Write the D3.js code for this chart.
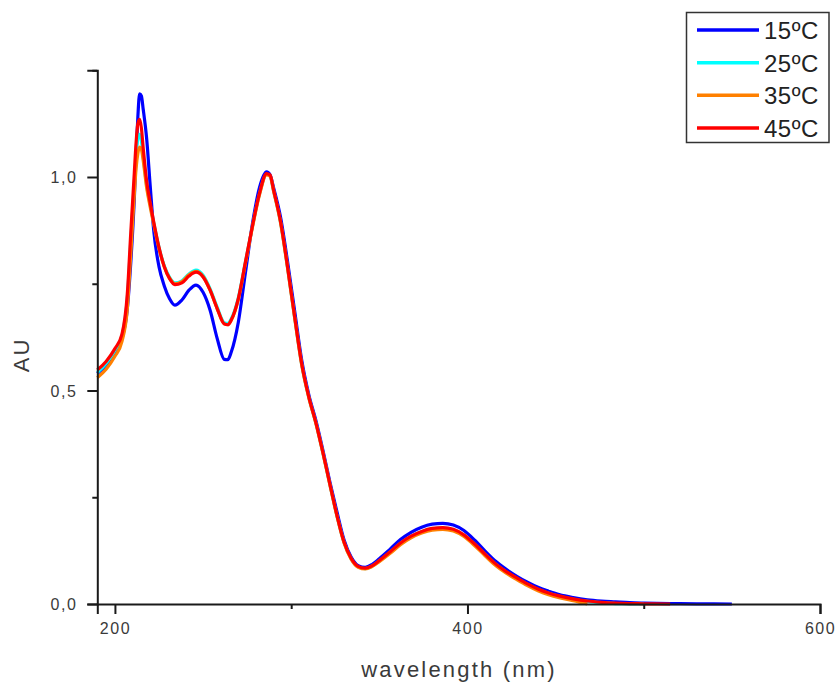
<!DOCTYPE html>
<html>
<head>
<meta charset="utf-8">
<script src="https://cdn.jsdelivr.net/npm/d3@7"></script>
<style>
  html, body { margin: 0; padding: 0; background: #fff; }
  svg { display: block; }
  text { font-family: "Liberation Sans", Arial, sans-serif; }
</style>
</head>
<body>
<svg id="chart" width="840" height="686"></svg>
<script>
// Absorbance spectra (AU) recorded at four temperatures.
const wavelength = [190,195,200,204,207,209,211,212,213,214,215,216,218,220,222,225,228,231,234,238,242,246,250,254,258,262,264,266,270,274,278,282,286,288,290,294,298,302,306,310,314,318,322,326,330,334,338,342,346,350,356,362,368,374,380,386,392,398,404,410,416,422,428,434,440,446,452,460,468,476,484,492,500,515,530,550];

const au15 = [.540,.560,.588,.622,.690,.800,.950,1.05,1.14,1.195,1.19,1.16,1.09,.98,.875,.79,.745,.715,.700,.712,.735,.747,.730,.688,.622,.573,.572,.59,.66,.775,.89,.975,1.012,1.005,.975,.905,.80,.685,.57,.49,.43,.36,.285,.215,.15,.11,.09,.086,.093,.106,.128,.151,.168,.180,.187,.189,.185,.172,.150,.124,.100,.081,.065,.051,.039,.030,.022,.015,.010,.007,.005,.003,.002,.001,.0005,0];

const au25 = [.542,.563,.594,.628,.715,.850,.985,1.05,1.09,1.10,1.085,1.05,.98,.935,.893,.835,.792,.765,.752,.757,.773,.782,.770,.738,.695,.659,.657,.668,.717,.800,.884,.960,1.006,1.003,.968,.893,.786,.670,.560,.484,.424,.354,.279,.206,.144,.106,.087,.083,.089,.101,.121,.142,.158,.169,.176,.178,.174,.161,.140,.116,.093,.075,.060,.046,.034,.025,.018,.011,.006,.003,.001,.0005,0];

const au35 = [.530,.550,.580,.615,.690,.820,.960,1.02,1.055,1.07,1.065,1.04,.975,.93,.89,.832,.79,.763,.75,.755,.771,.779,.767,.735,.692,.656,.654,.665,.713,.797,.882,.958,1.005,1.002,.967,.892,.785,.669,.559,.483,.423,.353,.278,.205,.143,.105,.086,.082,.088,.099,.118,.139,.155,.166,.173,.175,.171,.158,.137,.113,.090,.072,.057,.043,.031,.022,.015,.008,0];

const au45 = [.548,.568,.598,.632,.725,.870,1.01,1.08,1.125,1.135,1.115,1.07,.99,.94,.895,.835,.79,.762,.748,.752,.768,.777,.766,.735,.692,.656,.654,.665,.715,.800,.885,.962,1.008,1.005,.970,.895,.788,.672,.562,.485,.425,.355,.28,.207,.145,.107,.088,.084,.09,.102,.122,.143,.159,.170,.177,.179,.175,.162,.141,.117,.094,.076,.061,.047,.035,.026,.019,.012,.007,.004,.002,.001,.0005,0];

const seriesNames = ["15ºC", "25ºC", "35ºC", "45ºC"];
const seriesColors = ["#0000ff", "#00ffff", "#ff8000", "#ff0000"];
const seriesValues = [au15, au25, au35, au45];

const xMajorTicks = [200, 400, 600];
const xMinorTicks = [300, 500];
const yMajorTicks = [0, 0.5, 1.0];
const yMinorTicks = [0.25, 0.75, 1.25];

const svg = d3.select("#chart");

const x = d3.scaleLinear().domain([190, 600]).range([97.3, 820]);
const y = d3.scaleLinear().domain([0, 1.25]).range([604, 70.25]);

const fmt = v => d3.format(".1f")(v).replace(".", ",");

// Curves
const line = d3.line()
  .x(d => x(d[0]))
  .y(d => y(d[1]))
  .curve(d3.curveMonotoneX);

const curves = svg.append("g");
seriesValues.forEach((vals, i) => {
  const pts = vals.map((v, j) => [wavelength[j], v]);
  curves.append("path")
    .datum(pts)
    .attr("d", line)
    .attr("fill", "none")
    .attr("stroke", seriesColors[i])
    .attr("stroke-width", 3.2)
    .attr("stroke-linejoin", "round");
});

// Axes
const axisColor = "#1a1a1a";
const labelColor = "#3a3a3a";

const xAxis = svg.append("g").attr("transform", `translate(0,${y(0)})`)
  .call(d3.axisBottom(x).tickValues(xMajorTicks).tickSize(10).tickPadding(9).tickFormat(d3.format("d")));
const xMinor = svg.append("g").attr("transform", `translate(0,${y(0)})`)
  .call(d3.axisBottom(x).tickValues(xMinorTicks).tickSize(5).tickFormat(""));
const yAxis = svg.append("g").attr("transform", `translate(${x(190)},0)`)
  .call(d3.axisLeft(y).tickValues(yMajorTicks).tickSize(10).tickPadding(10).tickFormat(fmt));
const yMinor = svg.append("g").attr("transform", `translate(${x(190)},0)`)
  .call(d3.axisLeft(y).tickValues(yMinorTicks).tickSize(5).tickFormat(""));

[xAxis, xMinor, yAxis, yMinor].forEach(g => {
  g.select(".domain").attr("stroke", axisColor).attr("stroke-width", 2);
  g.selectAll(".tick line").attr("stroke", axisColor).attr("stroke-width", 2);
  g.selectAll(".tick text")
    .attr("fill", labelColor)
    .style("font-size", "16px")
    .style("letter-spacing", "1.5px");
});
xMinor.select(".domain").remove();
yMinor.select(".domain").remove();
yAxis.selectAll(".tick text").attr("dy", "0.35em");

// Axis titles
svg.append("text")
  .attr("x", 459).attr("y", 677)
  .attr("text-anchor", "middle")
  .attr("fill", labelColor)
  .style("font-size", "22px")
  .style("letter-spacing", "2.2px")
  .text("wavelength (nm)");

svg.append("text")
  .attr("transform", "translate(29,355) rotate(-90)")
  .attr("text-anchor", "middle")
  .attr("fill", labelColor)
  .style("font-size", "22px")
  .style("letter-spacing", "2px")
  .text("AU");

// Legend
const legend = svg.append("g");
legend.append("rect")
  .attr("x", 686.5).attr("y", 12.5)
  .attr("width", 142.5).attr("height", 130)
  .attr("fill", "#fff")
  .attr("stroke", "#333")
  .attr("stroke-width", 1.5);

const rowY = d3.scalePoint().domain(seriesNames).range([30, 128]);
seriesNames.forEach((name, i) => {
  const yy = rowY(name);
  legend.append("line")
    .attr("x1", 697).attr("x2", 759)
    .attr("y1", yy).attr("y2", yy)
    .attr("stroke", seriesColors[i])
    .attr("stroke-width", 3.5);
  legend.append("text")
    .attr("x", 764).attr("y", yy + 9)
    .attr("fill", "#222")
    .style("font-size", "24px")
    .style("letter-spacing", "0.5px")
    .text(name);
});
</script>
</body>
</html>
